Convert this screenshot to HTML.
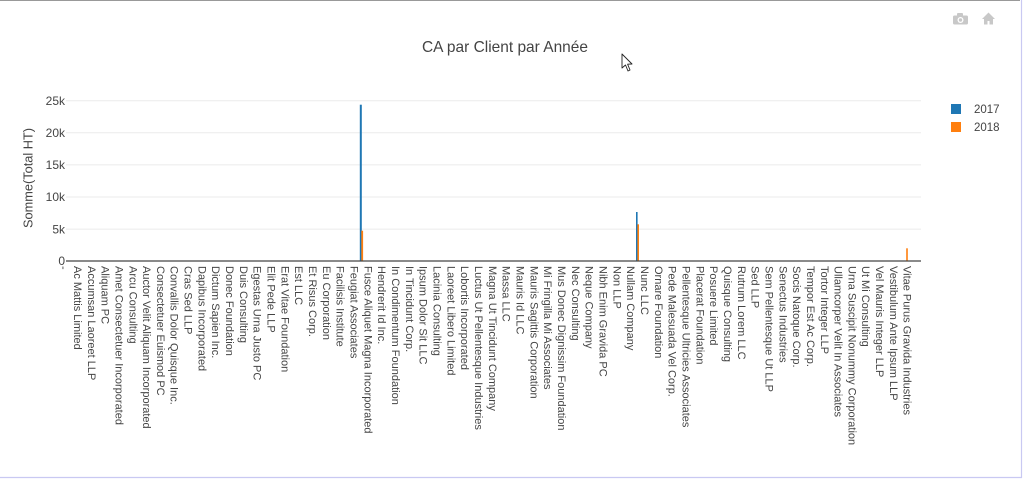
<!DOCTYPE html>
<html><head><meta charset="utf-8"><style>
html,body{margin:0;padding:0;background:#fff;}
svg{display:block;}
text{font-family:"Liberation Sans",sans-serif;fill:#444;}
</style></head><body>
<svg width="1024" height="480" viewBox="0 0 1024 480" xmlns="http://www.w3.org/2000/svg">
<rect x="0" y="0" width="1024" height="480" fill="#fff"/>
<!-- frame -->
<line x1="0" y1="0.5" x2="1020" y2="0.5" stroke="#999" stroke-width="1"/>
<line x1="1021.5" y1="0" x2="1021.5" y2="478" stroke="#c9c9f2" stroke-width="1.2"/>
<line x1="0" y1="477.5" x2="1022" y2="477.5" stroke="#c9c9f2" stroke-width="1.2"/>

<!-- modebar icons -->
<g fill="#c8c8c8">
  <rect x="953" y="15.5" width="15" height="9" rx="1.5"/>
  <rect x="957" y="13" width="6" height="4" rx="1"/>
  <circle cx="960.5" cy="20" r="3" fill="#fff"/>
  <circle cx="960.5" cy="20" r="1.7" fill="#c8c8c8"/>
  <polygon points="988.5,12.5 982,19 984,19 984,24.5 987.5,24.5 987.5,21 989.5,21 989.5,24.5 993,24.5 993,19 995,19"/>
</g>

<!-- title -->
<text x="505" y="52" font-size="16" text-anchor="middle" textLength="166" lengthAdjust="spacingAndGlyphs">CA par Client par Année</text>

<!-- cursor -->
<polygon points="622,54 622,68 625.5,65 628,71 630,70 627.6,64.2 632,64" fill="#fff" stroke="#222" stroke-width="0.9" stroke-linejoin="round"/>

<!-- grid -->
<g stroke="#ebebeb" stroke-width="1">
  <line x1="66" y1="100.7" x2="921" y2="100.7"/>
  <line x1="66" y1="132.8" x2="921" y2="132.8"/>
  <line x1="66" y1="164.9" x2="921" y2="164.9"/>
  <line x1="66" y1="197" x2="921" y2="197"/>
  <line x1="66" y1="229.1" x2="921" y2="229.1"/>
</g>

<!-- y ticks -->
<g font-size="12" text-anchor="end">
  <text x="65" y="104.9">25k</text>
  <text x="65" y="137">20k</text>
  <text x="65" y="169.1">15k</text>
  <text x="65" y="201.2">10k</text>
  <text x="65" y="233.3">5k</text>
  <text x="65" y="265.2">0</text>
</g>

<!-- y title -->
<text transform="translate(28,178) rotate(-90)" font-size="13" text-anchor="middle" dy="0.35em" textLength="100" lengthAdjust="spacingAndGlyphs">Somme(Total HT)</text>

<!-- bars -->
<rect x="359.8" y="104.7" width="2" height="156.3" fill="#1f77b4"/>
<rect x="361.3" y="230.7" width="1.8" height="30.3" fill="#ff7f0e"/>
<rect x="636" y="212" width="1.6" height="49" fill="#1f77b4"/>
<rect x="637.4" y="224.3" width="1.6" height="36.7" fill="#ff7f0e"/>
<rect x="906.2" y="248.3" width="1.6" height="12.7" fill="#ff7f0e"/>

<!-- x axis line -->
<line x1="66" y1="261" x2="921" y2="261" stroke="#444" stroke-width="1.2"/>

<!-- x labels -->
<g font-size="11" dy="0.35em">
<text transform="translate(64.0,266) rotate(90)" dy="0.35em">-</text>
<text transform="translate(77.8,266) rotate(90)" dy="0.35em">Ac Mattis Limited</text>
<text transform="translate(91.7,266) rotate(90)" dy="0.35em">Accumsan Laoreet LLP</text>
<text transform="translate(105.5,266) rotate(90)" dy="0.35em">Aliquam PC</text>
<text transform="translate(119.3,266) rotate(90)" dy="0.35em">Amet Consectetuer Incorporated</text>
<text transform="translate(133.2,266) rotate(90)" dy="0.35em">Arcu Consulting</text>
<text transform="translate(147.0,266) rotate(90)" dy="0.35em">Auctor Velit Aliquam Incorporated</text>
<text transform="translate(160.8,266) rotate(90)" dy="0.35em">Consectetuer Euismod PC</text>
<text transform="translate(174.6,266) rotate(90)" dy="0.35em">Convallis Dolor Quisque Inc.</text>
<text transform="translate(188.5,266) rotate(90)" dy="0.35em">Cras Sed LLP</text>
<text transform="translate(202.3,266) rotate(90)" dy="0.35em">Dapibus Incorporated</text>
<text transform="translate(216.1,266) rotate(90)" dy="0.35em">Dictum Sapien Inc.</text>
<text transform="translate(230.0,266) rotate(90)" dy="0.35em">Donec Foundation</text>
<text transform="translate(243.8,266) rotate(90)" dy="0.35em">Duis Consulting</text>
<text transform="translate(257.6,266) rotate(90)" dy="0.35em">Egestas Urna Justo PC</text>
<text transform="translate(271.5,266) rotate(90)" dy="0.35em">Elit Pede LLP</text>
<text transform="translate(285.3,266) rotate(90)" dy="0.35em">Erat Vitae Foundation</text>
<text transform="translate(299.1,266) rotate(90)" dy="0.35em">Est LLC</text>
<text transform="translate(312.9,266) rotate(90)" dy="0.35em">Et Risus Corp.</text>
<text transform="translate(326.8,266) rotate(90)" dy="0.35em">Eu Corporation</text>
<text transform="translate(340.6,266) rotate(90)" dy="0.35em">Facilisis Institute</text>
<text transform="translate(354.4,266) rotate(90)" dy="0.35em">Feugiat Associates</text>
<text transform="translate(368.3,266) rotate(90)" dy="0.35em">Fusce Aliquet Magna Incorporated</text>
<text transform="translate(382.1,266) rotate(90)" dy="0.35em">Hendrerit Id Inc.</text>
<text transform="translate(395.9,266) rotate(90)" dy="0.35em">In Condimentum Foundation</text>
<text transform="translate(409.8,266) rotate(90)" dy="0.35em">In Tincidunt Corp.</text>
<text transform="translate(423.6,266) rotate(90)" dy="0.35em">Ipsum Dolor Sit LLC</text>
<text transform="translate(437.4,266) rotate(90)" dy="0.35em">Lacinia Consulting</text>
<text transform="translate(451.2,266) rotate(90)" dy="0.35em">Laoreet Libero Limited</text>
<text transform="translate(465.1,266) rotate(90)" dy="0.35em">Lobortis Incorporated</text>
<text transform="translate(478.9,266) rotate(90)" dy="0.35em">Luctus Ut Pellentesque Industries</text>
<text transform="translate(492.7,266) rotate(90)" dy="0.35em">Magna Ut Tincidunt Company</text>
<text transform="translate(506.6,266) rotate(90)" dy="0.35em">Massa LLC</text>
<text transform="translate(520.4,266) rotate(90)" dy="0.35em">Mauris Id LLC</text>
<text transform="translate(534.2,266) rotate(90)" dy="0.35em">Mauris Sagittis Corporation</text>
<text transform="translate(548.1,266) rotate(90)" dy="0.35em">Mi Fringilla Mi Associates</text>
<text transform="translate(561.9,266) rotate(90)" dy="0.35em">Mus Donec Dignissim Foundation</text>
<text transform="translate(575.7,266) rotate(90)" dy="0.35em">Nec Consulting</text>
<text transform="translate(589.5,266) rotate(90)" dy="0.35em">Neque Company</text>
<text transform="translate(603.4,266) rotate(90)" dy="0.35em">Nibh Enim Gravida PC</text>
<text transform="translate(617.2,266) rotate(90)" dy="0.35em">Non LLP</text>
<text transform="translate(631.0,266) rotate(90)" dy="0.35em">Nullam Company</text>
<text transform="translate(644.9,266) rotate(90)" dy="0.35em">Nunc LLC</text>
<text transform="translate(658.7,266) rotate(90)" dy="0.35em">Ornare Foundation</text>
<text transform="translate(672.5,266) rotate(90)" dy="0.35em">Pede Malesuada Vel Corp.</text>
<text transform="translate(686.4,266) rotate(90)" dy="0.35em">Pellentesque Ultricies Associates</text>
<text transform="translate(700.2,266) rotate(90)" dy="0.35em">Placerat Foundation</text>
<text transform="translate(714.0,266) rotate(90)" dy="0.35em">Posuere Limited</text>
<text transform="translate(727.8,266) rotate(90)" dy="0.35em">Quisque Consulting</text>
<text transform="translate(741.7,266) rotate(90)" dy="0.35em">Rutrum Lorem LLC</text>
<text transform="translate(755.5,266) rotate(90)" dy="0.35em">Sed LLP</text>
<text transform="translate(769.3,266) rotate(90)" dy="0.35em">Sem Pellentesque Ut LLP</text>
<text transform="translate(783.2,266) rotate(90)" dy="0.35em">Senectus Industries</text>
<text transform="translate(797.0,266) rotate(90)" dy="0.35em">Socis Natoque Corp.</text>
<text transform="translate(810.8,266) rotate(90)" dy="0.35em">Tempor Est Ac Corp.</text>
<text transform="translate(824.7,266) rotate(90)" dy="0.35em">Tortor Integer LLP</text>
<text transform="translate(838.5,266) rotate(90)" dy="0.35em">Ullamcorper Velit In Associates</text>
<text transform="translate(852.3,266) rotate(90)" dy="0.35em">Urna Suscipit Nonummy Corporation</text>
<text transform="translate(866.1,266) rotate(90)" dy="0.35em">Ut Mi Consulting</text>
<text transform="translate(880.0,266) rotate(90)" dy="0.35em">Vel Mauris Integer LLP</text>
<text transform="translate(893.8,266) rotate(90)" dy="0.35em">Vestibulum Ante Ipsum LLP</text>
<text transform="translate(907.6,266) rotate(90)" dy="0.35em">Vitae Purus Gravida Industries</text>
</g>

<!-- legend -->
<rect x="951" y="104" width="10" height="10" fill="#1f77b4"/>
<rect x="951" y="122" width="10" height="10" fill="#ff7f0e"/>
<text x="974" y="113" font-size="11.5">2017</text>
<text x="974" y="131" font-size="11.5">2018</text>
</svg>
</body></html>
